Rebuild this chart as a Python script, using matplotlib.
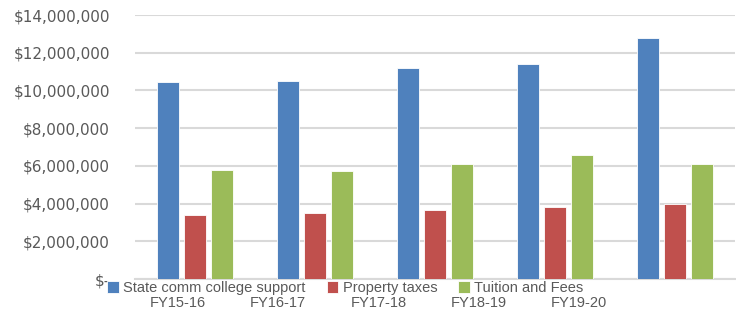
import numpy as np
import matplotlib.pyplot as plt
from matplotlib.ticker import FuncFormatter

years = ["FY15-16", "FY16-17", "FY17-18", "FY18-19", "FY19-20"]
state_support = [10440000, 10480000, 11170000, 11380000, 12760000]
property_taxes = [3410000, 3520000, 3680000, 3840000, 4000000]
tuition_fees = [5800000, 5750000, 6120000, 6600000, 6120000]

series = [
    ("State comm college support", state_support, "#4F81BD"),
    ("Property taxes", property_taxes, "#C0504D"),
    ("Tuition and Fees", tuition_fees, "#9BBB59"),
]

W, H = 736, 311
fig = plt.figure(figsize=(W / 100, H / 100), dpi=100)
ax = fig.add_axes([135 / W, 1 - 279 / H, 600 / W, 264 / H])

x = np.arange(len(years))
width = 0.185
offsets = [-0.225, 0, 0.225]
handles = []
for (name, vals, color), off in zip(series, offsets):
    b = ax.bar(x + off, vals, width, color=color, edgecolor="white",
               linewidth=0.6, label=name, zorder=3)
    handles.append(b)

ax.set_xlim(-0.5, len(years) - 0.5)
ax.set_ylim(0, 14000000)
ax.set_yticks(np.arange(0, 14000001, 2000000))
ax.yaxis.set_major_formatter(FuncFormatter(lambda v, p: "$-" if v == 0 else f"${v:,.0f}"))
ax.grid(axis="y", color="#D9D9D9", linewidth=1.5, zorder=0)
for s in ["top", "right", "left"]:
    ax.spines[s].set_visible(False)
ax.spines["bottom"].set_color("#D9D9D9")
ax.spines["bottom"].set_linewidth(1.5)
ax.tick_params(axis="y", length=0, pad=18, labelsize=11, labelcolor="#595959")
ax.set_xticks([])

# category labels sit lower and squeezed, as in the source
label_px = [178, 278, 379, 479, 579]
for lab, px in zip(years, label_px):
    fig.text(px / W, 1 - 303 / H, lab, ha="center", va="center",
             fontsize=10.5, color="#595959", family="Liberation Sans")

fig.legend(handles=handles, labels=[s[0] for s in series], ncol=3,
           loc="center left", bbox_to_anchor=(107 / W, 1 - 288 / H),
           frameon=False, labelcolor="#595959",
           prop={"family": "Liberation Sans", "size": 10.5},
           handlelength=0.8, handleheight=0.8, handletextpad=0.3,
           columnspacing=1.45, borderaxespad=0, borderpad=0)

fig.savefig("out.png", dpi=100)
